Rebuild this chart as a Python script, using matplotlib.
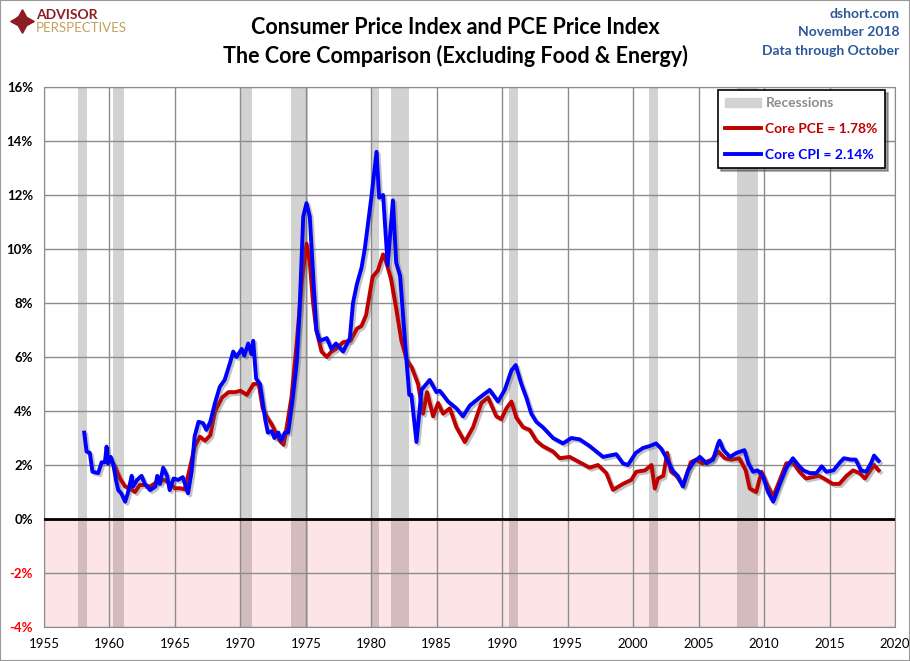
import numpy as np
import matplotlib
matplotlib.use('Agg')
import matplotlib.pyplot as plt
import matplotlib.patheffects as pe
from matplotlib.lines import Line2D
from matplotlib.patches import Patch, Rectangle, Circle

plt.rcParams['font.family'] = ['Lato', 'DejaVu Sans']

# Core CPI, y/y % change
cpi_years = [1958.07, 1958.25, 1958.5, 1958.7, 1959.14, 1959.4, 1959.65, 1959.78, 1959.9,
             1960.1, 1960.3, 1960.5, 1960.67, 1960.9, 1961.2, 1961.4, 1961.7, 1961.8,
             1962.1, 1962.45, 1962.7, 1963.1, 1963.5, 1963.65, 1963.85, 1964.1, 1964.4,
             1964.6, 1964.9, 1965.25, 1965.6, 1966.0, 1966.27, 1966.5, 1966.8, 1967.15,
             1967.4, 1967.7, 1968.05, 1968.43, 1968.8, 1969.2, 1969.45, 1969.7, 1970.1,
             1970.3, 1970.6, 1970.85, 1970.98, 1971.2, 1971.5, 1971.9, 1972.1, 1972.4,
             1972.6, 1972.9, 1973.1, 1973.4, 1973.65, 1974.0, 1974.3, 1974.5, 1974.8,
             1975.05, 1975.3, 1975.55, 1975.8, 1976.07, 1976.6, 1976.95, 1977.3, 1977.85,
             1978.36, 1978.6, 1978.9, 1979.25, 1979.5, 1980.0, 1980.4, 1980.6, 1980.9,
             1981.25, 1981.65, 1981.9, 1982.2, 1982.6, 1982.9, 1983.06, 1983.45,
             1983.83, 1984.46, 1984.97, 1985.23, 1985.86, 1986.5, 1987.0,
             1987.52, 1988.28, 1989.04, 1989.68, 1990.19, 1990.7, 1991.03, 1991.46,
             1991.84, 1992.22, 1992.6, 1993.1, 1993.88, 1994.64, 1995.28, 1995.91,
             1996.68, 1997.7, 1998.71, 1999.22, 1999.6, 2000.2, 2000.75, 2001.25,
             2001.75, 2002.15, 2002.5, 2003.0, 2003.4, 2003.8, 2004.2, 2004.6, 2005.1,
             2005.6, 2006.1, 2006.5, 2006.6, 2006.9, 2007.4, 2007.9, 2008.5, 2008.8,
             2009.15, 2009.5, 2009.9, 2010.3, 2010.7, 2011.2, 2011.7, 2012.2, 2012.6,
             2013.0, 2013.5, 2014.0, 2014.4, 2014.75, 2015.3, 2015.8, 2016.1, 2016.65,
             2017.0, 2017.4, 2017.8, 2018.2, 2018.4, 2018.75]
cpi_vals = [3.2, 2.5, 2.45, 1.75, 1.7, 2.1, 2.1, 2.68, 2.05,
            2.3, 2.0, 1.44, 1.07, 0.95, 0.64, 0.95, 1.6, 1.2,
            1.44, 1.6, 1.3, 1.07, 1.2, 1.6, 1.3, 1.9, 1.6,
            1.07, 1.5, 1.45, 1.55, 0.95, 1.75, 3.05, 3.6, 3.55,
            3.3, 3.6, 4.28, 4.9, 5.15, 5.77, 6.2, 6.0, 6.3,
            6.05, 6.5, 6.1, 6.6, 5.2, 5.0, 3.67, 3.2, 3.25,
            3.0, 3.2, 2.9, 3.2, 3.2, 4.5, 5.8, 7.5, 11.2,
            11.7, 11.2, 9.1, 7.0, 6.6, 6.7, 6.3, 6.5, 6.2,
            6.7, 8.0, 8.7, 9.3, 10.0, 11.9, 13.6, 11.9, 12.0,
            9.4, 11.8, 9.5, 9.0, 6.4, 4.6, 4.6, 2.85,
            4.78, 5.15, 4.7, 4.75, 4.35, 4.1, 3.8,
            4.2, 4.5, 4.78, 4.35, 4.78, 5.5, 5.7, 5.0,
            4.5, 3.9, 3.6, 3.4, 3.0, 2.8, 3.0, 2.95,
            2.7, 2.3, 2.4, 2.06, 2.0, 2.45, 2.63, 2.7,
            2.8, 2.6, 2.3, 1.8, 1.6, 1.2, 1.8, 2.1, 2.3,
            2.06, 2.2, 2.8, 2.9, 2.55, 2.3, 2.45, 2.55, 2.06,
            1.75, 1.8, 1.6, 1.0, 0.64, 1.3, 1.9, 2.25, 2.0,
            1.8, 1.7, 1.7, 1.95, 1.75, 1.8, 2.1, 2.25, 2.2,
            2.2, 1.8, 1.75, 2.1, 2.35, 2.15]

# Core PCE, y/y % change
pce_years = [1960.1, 1960.4, 1960.8, 1961.2, 1961.55, 1961.95, 1962.3, 1962.7, 1963.1,
             1963.5, 1963.85, 1964.2, 1964.6, 1965.0, 1965.4, 1965.75, 1966.1, 1966.5,
             1966.9, 1967.3, 1967.7, 1968.05, 1968.6, 1969.1, 1969.6, 1970.0, 1970.5,
             1971.0, 1971.4, 1971.7, 1972.0, 1972.4, 1972.6, 1973.0, 1973.3, 1973.5,
             1973.9, 1974.3, 1974.7, 1975.05, 1975.3, 1975.55, 1975.8, 1976.2, 1976.6,
             1976.95, 1977.3, 1977.85, 1978.4, 1978.9, 1979.25, 1979.6, 1979.9, 1980.1,
             1980.5, 1980.9, 1981.15, 1981.5, 1981.9, 1982.3, 1982.7, 1983.1, 1983.57,
             1983.95, 1984.26, 1984.72, 1985.1, 1985.48, 1986.0, 1986.5, 1987.14,
             1987.77, 1988.41, 1988.92, 1989.55, 1989.93, 1990.32, 1990.7, 1991.08,
             1991.59, 1992.1, 1992.6, 1993.1, 1993.88, 1994.39, 1995.15, 1995.91,
             1996.68, 1997.31, 1997.95, 1998.46, 1999.22, 1999.86, 2000.24, 2000.9,
             2001.4, 2001.65, 2001.9, 2002.3, 2002.6, 2002.9, 2003.3, 2003.8, 2004.2,
             2004.4, 2004.8, 2005.3, 2006.0, 2006.5, 2007.0, 2007.5, 2008.1, 2008.6,
             2008.9, 2009.4, 2009.8, 2010.2, 2010.7, 2011.2, 2011.7, 2012.2, 2012.7,
             2013.2, 2013.7, 2014.2, 2014.75, 2015.25, 2015.75, 2016.3, 2016.8, 2017.3,
             2017.7, 2018.05, 2018.4, 2018.75]
pce_vals = [2.19, 1.95, 1.5, 1.2, 1.14, 1.0, 1.26, 1.26, 1.2,
            1.33, 1.4, 1.45, 1.33, 1.14, 1.14, 1.1, 1.8, 2.67,
            3.05, 2.9, 3.1, 3.97, 4.5, 4.7, 4.7, 4.75, 4.6,
            5.0, 5.0, 4.1, 3.8, 3.5, 3.3, 2.9, 2.75, 3.3,
            4.5, 6.5, 8.85, 10.2, 9.5, 8.0, 7.0, 6.2, 6.0,
            6.2, 6.3, 6.55, 6.6, 7.05, 7.15, 7.55, 8.4, 8.97,
            9.2, 9.8, 9.5, 8.9, 7.8, 6.6, 5.9, 5.6, 5.0,
            3.9, 4.7, 3.8, 4.3, 3.9, 4.1, 3.4, 2.85,
            3.4, 4.3, 4.5, 3.8, 3.7, 4.1, 4.35, 3.75,
            3.4, 3.3, 2.9, 2.7, 2.5, 2.25, 2.3, 2.1,
            1.9, 2.0, 1.7, 1.08, 1.3, 1.45, 1.75, 1.8,
            2.0, 1.13, 1.5, 1.6, 2.45, 1.75, 1.6, 1.25, 1.8,
            2.1, 2.2, 2.06, 2.2, 2.5, 2.25, 2.2, 2.25, 1.8,
            1.13, 1.0, 1.75, 1.3, 0.83, 1.45, 2.06, 2.1, 1.75,
            1.5, 1.55, 1.6, 1.45, 1.3, 1.3, 1.6, 1.8, 1.7,
            1.5, 1.75, 2.0, 1.8]

# NBER recessions (start, end)
rec_start = [1957.6, 1960.3, 1969.95, 1973.85, 1980.0, 1981.5, 1990.55, 2001.2, 2007.95]
rec_end = [1958.3, 1961.1, 1970.85, 1975.2, 1980.55, 1982.9, 1991.2, 2001.9, 2009.5]

x_ticks = list(range(1955, 2021, 5))
y_ticks = list(range(-4, 17, 2))

pce_label = 'Core PCE = 1.78%'
cpi_label = 'Core CPI = 2.14%'

fig = plt.figure(figsize=(9.1, 6.61), dpi=100)
ax = fig.add_axes([44 / 910, 1 - 627 / 661, 851 / 910, 540 / 661])

# pink negative zone and recession bars
for s, e in zip(rec_start, rec_end):
    ax.axvspan(s, e, color='#d2d2d2', lw=0, zorder=1)
ax.axhspan(-4, 0, color='#f00000', alpha=0.1, lw=0, zorder=1.2)

shadow = [pe.SimpleLineShadow(offset=(1.5, -1.5), shadow_color='#555555', alpha=0.35), pe.Normal()]
ax.plot(pce_years, pce_vals, color='#c00000', lw=2.8, zorder=3, path_effects=shadow,
        solid_joinstyle='round')
ax.plot(cpi_years, cpi_vals, color='#0000ff', lw=2.8, zorder=4, path_effects=shadow,
        solid_joinstyle='round')

ax.axhline(0, color='black', lw=2, zorder=5)

ax.set_xlim(1955, 2020)
ax.set_ylim(-4, 16)
ax.set_xticks(x_ticks)
ax.set_yticks(y_ticks)
ax.set_yticklabels([f'{v}%' for v in y_ticks], fontweight='bold')
for lbl, v in zip(ax.get_yticklabels(), y_ticks):
    lbl.set_color('red' if v < 0 else 'black')
ax.tick_params(length=0, labelsize=9.5)
ax.tick_params(axis='x', pad=8)
ax.tick_params(axis='y', pad=8)
ax.grid(True, color='#8c8c8c', lw=1)
ax.set_axisbelow('line')
for sp in ax.spines.values():
    sp.set_color('#8c8c8c')

handles = [Patch(color='#d2d2d2'),
           Line2D([], [], color='#c00000', lw=2.8),
           Line2D([], [], color='#0000ff', lw=2.8)]
leg = ax.legend(handles, ['Recessions', pce_label, cpi_label], loc='upper right',
                bbox_to_anchor=(0.988, 0.994), borderaxespad=0, fancybox=False, shadow=True,
                framealpha=1, edgecolor='black', fontsize=10, handlelength=2.6,
                handleheight=0.6, labelspacing=1.0, borderpad=0.5, handletextpad=0.3)
leg.get_frame().set_linewidth(1.2)
for txt, c in zip(leg.get_texts(), ['#8c8c8c', '#c00000', '#0000ff']):
    txt.set_color(c)
    txt.set_fontweight('bold')

# titles
fig.text(0.5, 1 - 27 / 661, 'Consumer Price Index and PCE Price Index', ha='center', va='center',
         fontsize=15.5, fontweight='bold')
fig.text(0.5, 1 - 56 / 661, 'The Core Comparison (Excluding Food & Energy)', ha='center',
         va='center', fontsize=15.5, fontweight='bold')

for i, t in enumerate(['dshort.com', 'November 2018', 'Data through October']):
    fig.text(899 / 910, 1 - (14 + 18.5 * i) / 661, t, ha='right', va='center', fontsize=10,
             fontweight='bold', color='#2b5797')

# logo
fig.text(36 / 910, 1 - 15 / 661, 'ADVISOR', ha='left', va='center', fontsize=10,
         fontweight='bold', color='#8b1d24')
fig.text(36 / 910, 1 - 28.5 / 661, 'PERSPECTIVES', ha='left', va='center', fontsize=9.5,
         color='#c3a25e')
fig.add_artist(Circle((22 / 910, 1 - 21 / 661), 6.5 / 910, transform=fig.transFigure,
                      fill=False, ec='#8b1d24', lw=1.2))
fig.add_artist(Line2D([22 / 910], [1 - 21 / 661], marker=(4, 1, 0), markersize=17,
                      color='#8b1d24', transform=fig.transFigure))

fig.add_artist(Rectangle((0, 0), 1, 1, transform=fig.transFigure, fill=False,
                         ec='#999999', lw=1.5))

fig.savefig('out.png', dpi=100)
